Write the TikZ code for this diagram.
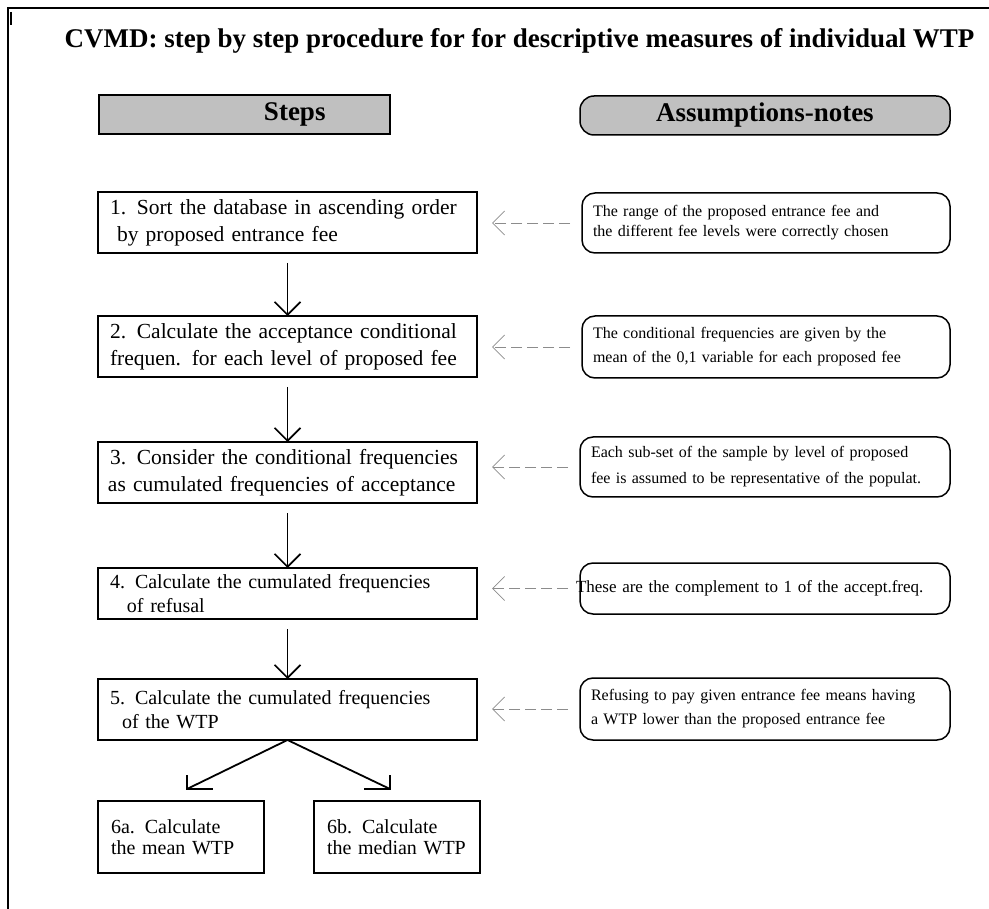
\documentclass[tikz,border=0pt]{standalone}
\usepackage{fontspec}
\setmainfont{Liberation Serif}
\usetikzlibrary{arrows.meta}
\definecolor{headgray}{HTML}{C0C0C0}
\definecolor{dashgray}{HTML}{8C8C8C}
\begin{document}
\begin{tikzpicture}[x=1pt,y=-1pt,
  every node/.style={inner sep=0pt, outer sep=0pt},
  stepbox/.style={draw, line width=1.5pt, anchor=north west, minimum height=61pt,
    text width=355pt, inner xsep=12pt, align=left, font=\fontsize{20}{24}\selectfont},
  bigstep/.style={stepbox, font=\fontsize{21.5}{27}\selectfont},
  notebox/.style={draw, line width=1.5pt, rounded corners=13pt, anchor=north west,
    minimum height=60pt, text width=346pt, inner xsep=11pt, align=left},
  headbox/.style={draw, line width=1.5pt, fill=headgray, anchor=north west,
    minimum height=39pt, font=\bfseries\fontsize{27}{32}\selectfont},
  endbox/.style={draw, line width=1.5pt, anchor=north west, minimum height=72pt,
    text width=140pt, inner xsep=13pt, align=left, font=\fontsize{20}{21}\selectfont},
  flow/.style={line width=1.6pt, -{Straight Barb[length=13pt,width=26pt]}},
  split/.style={line width=1.8pt, line join=miter},
  hint/.style={draw=dashgray, line width=0.8pt, dash pattern=on 11pt off 5pt,
    -{Straight Barb[length=12pt,width=24pt]}, shorten <=12pt, shorten >=15pt},
]
\useasboundingbox (0,0) rectangle (989,909);

% outer frame
\draw[line width=2pt] (989,8) -- (8,8) -- (8,909);
\draw[line width=1.5pt] (11,12) -- (11,25);

% title
\node[font=\bfseries\fontsize{27}{32}\selectfont, anchor=base] (title) at (519.5,48)
  {CVMD: step by step procedure for for descriptive measures of individual WTP};

% column headers
\node[headbox, text width=291pt, align=left] (hsteps) at (99,95) {\hspace*{165pt}Steps};
\node[headbox, rounded corners=14pt, minimum width=370pt] (hnotes) at (580,96) {Assumptions-notes};

% steps
\node[bigstep] (b1) at (98,192) {1. Sort the database in ascending order\\\hspace*{7pt}by proposed entrance fee};
\node[bigstep] (b2) at (98,316) {2. Calculate the acceptance conditional\\frequen. for each level of proposed fee};
\node[bigstep] (b3) at (98,442) {3. Consider the conditional frequencies\\\hspace*{-2pt}as cumulated frequencies of acceptance};
\node[stepbox, minimum height=51pt] (b4) at (98,568) {4. Calculate the cumulated frequencies\\\hspace*{17pt}of refusal};
\node[stepbox] (b5) at (98,679) {5. Calculate the cumulated frequencies\\\hspace*{12pt}of the WTP};

\node[endbox] (b6a) at (98,801) {6a. Calculate\\the mean WTP};
\node[endbox] (b6b) at (314,801) {6b. Calculate\\the median WTP};

% assumptions and notes
\node[notebox, font=\fontsize{16}{20}\selectfont] (n1) at (582,193)
  {The range of the proposed entrance fee and\\the different fee levels were correctly chosen};
\node[notebox, minimum height=62pt, font=\fontsize{16}{24}\selectfont] (n2) at (582,316)
  {The conditional frequencies are given by the\\mean of the 0,1 variable for each proposed fee};
\node[notebox, text width=348pt, font=\fontsize{16}{26}\selectfont] (n3) at (580,437)
  {Each sub-set of the sample by level of proposed\\fee is assumed to be representative of the populat.};
\node[notebox, text width=348pt, minimum height=51pt, font=\fontsize{17}{20}\selectfont] (n4) at (580,563)
  {\hspace*{-15pt}These are the complement to 1 of the accept.freq.};
\node[notebox, text width=348pt, minimum height=62pt, font=\fontsize{16}{24}\selectfont] (n5) at (580,678)
  {Refusing to pay given entrance fee means having\\a WTP lower than the proposed entrance fee};

% flow between steps
\draw[flow, shorten <=10pt] (b1.south) -- (b2.north);
\draw[flow, shorten <=10pt] (b2.south) -- (b3.north);
\draw[flow, shorten <=10pt] (b3.south) -- (b4.north);
\draw[flow, shorten <=10pt] (b4.south) -- (b5.north);

% split towards 6a and 6b
\coordinate (ta) at (187,789);
\coordinate (tb) at (390,789);
\draw[split] (b5.south) -- (ta);
\draw[split] (b5.south) -- (tb);
\draw[split] (ta) ++(0,-14) -- (ta) -- ++(26,0);
\draw[split] (tb) ++(0,-14) -- (tb) -- ++(-26,0);

% notes pointing at their steps
\draw[hint] (n1.west) -- (n1.west -| b1.east);
\draw[hint] (n2.west) -- (n2.west -| b2.east);
\draw[hint] (n3.west) -- (n3.west -| b3.east);
\draw[hint] (n4.west) -- (n4.west -| b4.east);
\draw[hint] (n5.west) -- (n5.west -| b5.east);
\end{tikzpicture}
\end{document}
